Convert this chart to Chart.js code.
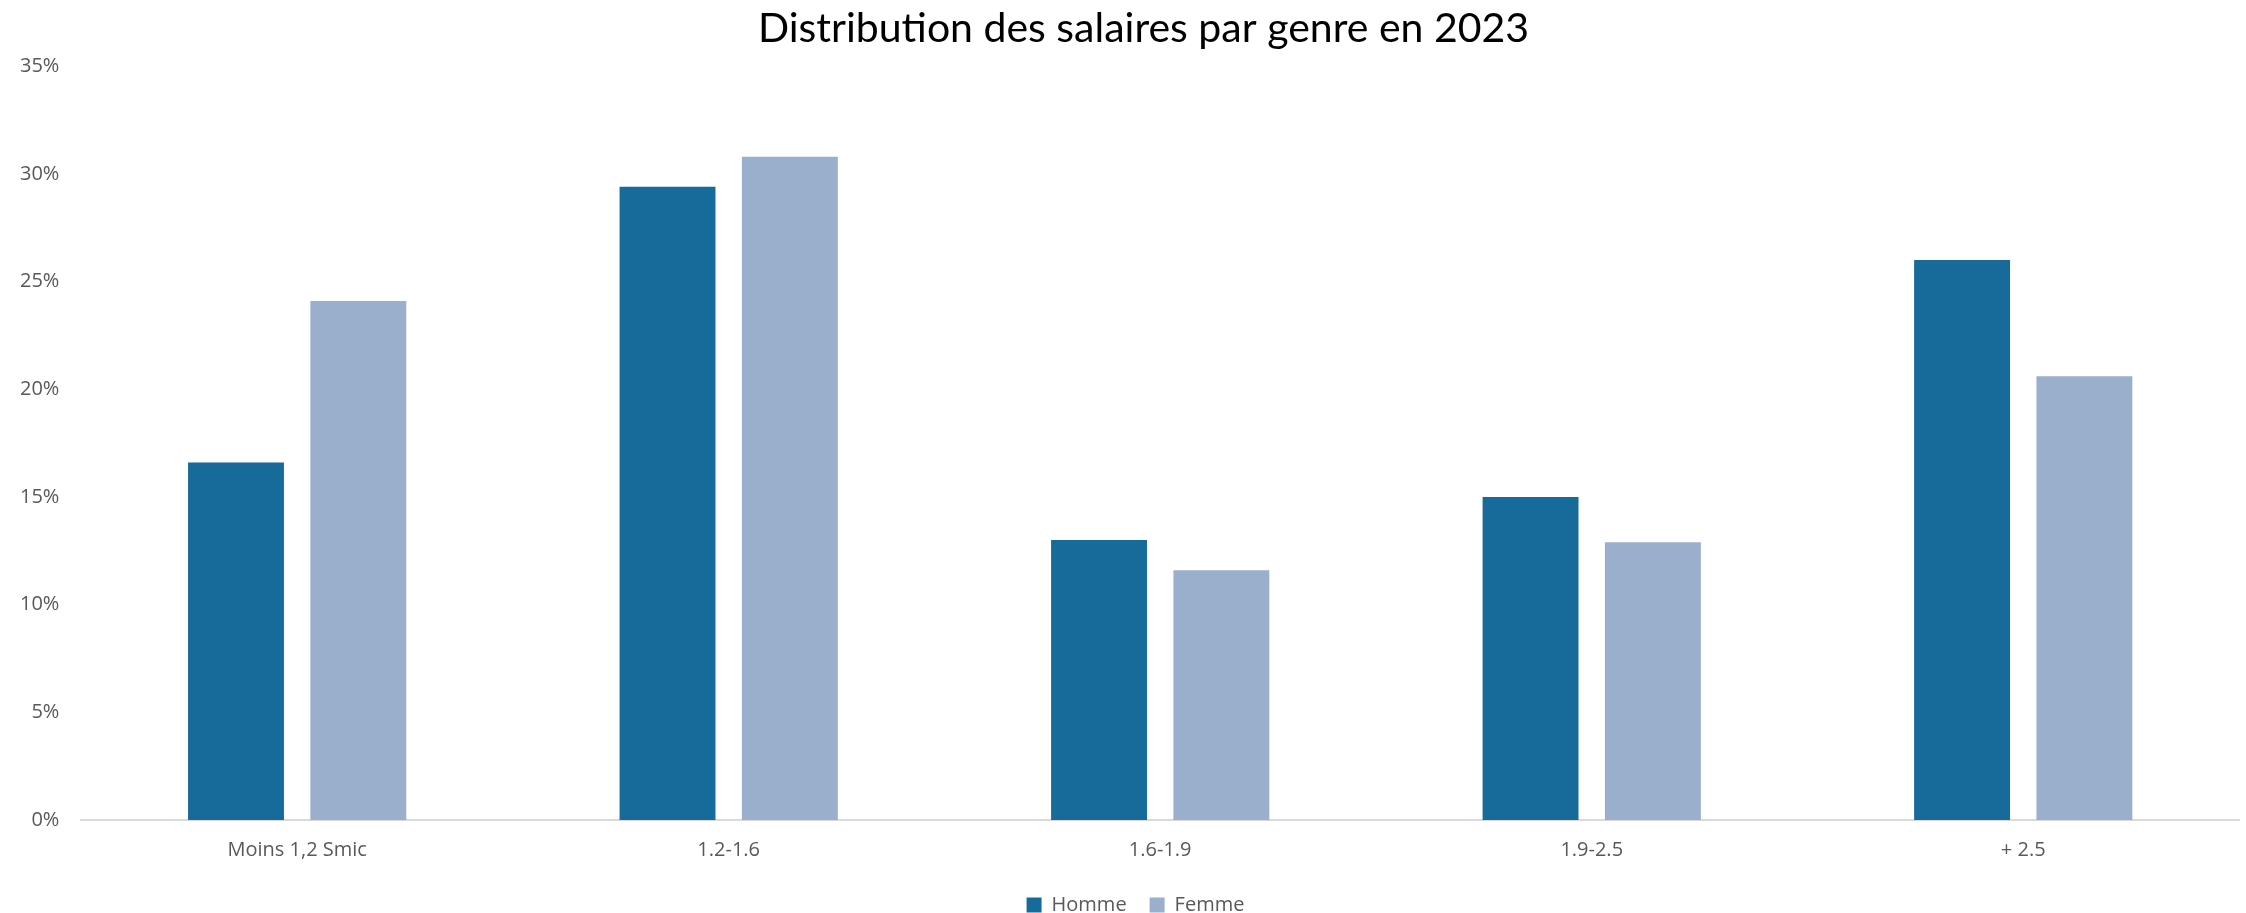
<!DOCTYPE html>
<html>
<head>
<meta charset="utf-8">
<script src="https://cdn.jsdelivr.net/npm/chart.js@4"></script>
<style>
  html, body { margin: 0; padding: 0; background: #fff; }
  #wrap { width: 2246px; height: 913px; position: relative; }
</style>
</head>
<body>
<div id="wrap"><canvas id="chart"></canvas></div>
<script>
const categories = ["Moins 1,2 Smic", "1.2-1.6", "1.6-1.9", "1.9-2.5", "+ 2.5"];
const homme = [16.6, 29.4, 13.0, 15.0, 26.0];
const femme = [24.1, 30.8, 11.6, 12.9, 20.6];
const yTicks = [0, 5, 10, 15, 20, 25, 30, 35];

const textFont = { family: "'Open Sans', sans-serif", size: 20 };

// title and legend are a little right of the canvas centre in the reference
const nudgeBlocks = {
    id: "nudgeBlocks",
    afterLayout(chart) {
        const shift = (box, dx) => {
            if (!box) return;
            box.left += dx;
            box.right += dx;
        };
        shift(chart.titleBlock, 21);
        shift(chart.legend, 13);
    }
};

new Chart(document.getElementById("chart"), {
    type: "bar",
    data: {
        labels: categories,
        datasets: [
            { label: "Homme", data: homme, backgroundColor: "#176b9b" },
            { label: "Femme", data: femme, backgroundColor: "#99afcb" }
        ]
    },
    options: {
        responsive: true,
        maintainAspectRatio: false,
        animation: false,
        categoryPercentage: 0.567,
        barPercentage: 0.784,
        // legend sits low in the reference, so let its box run a bit past the bottom edge
        layout: { padding: { left: 6, right: 7, top: 0, bottom: -12 } },
        plugins: {
            title: {
                display: true,
                text: "Distribution des salaires par genre en 2023",
                color: "#000",
                font: { family: "Lato, sans-serif", size: 41, weight: "normal" },
                padding: { top: 4, bottom: 13 }
            },
            legend: {
                position: "bottom",
                labels: {
                    color: "#595959",
                    font: textFont,
                    boxWidth: 15,
                    boxHeight: 15,
                    padding: 23
                }
            },
            tooltip: { enabled: false }
        },
        scales: {
            x: {
                grid: { display: false },
                border: { color: "#d9d9d9", width: 2 },
                ticks: { color: "#595959", font: textFont, padding: 10 }
            },
            y: {
                min: 0,
                max: 35,
                afterBuildTicks: axis => { axis.ticks = yTicks.map(v => ({ value: v })); },
                grid: { display: false },
                border: { display: false },
                ticks: {
                    color: "#595959",
                    font: textFont,
                    padding: 14,
                    callback: v => v + "%"
                }
            }
        }
    },
    plugins: [nudgeBlocks]
});
</script>
</body>
</html>
